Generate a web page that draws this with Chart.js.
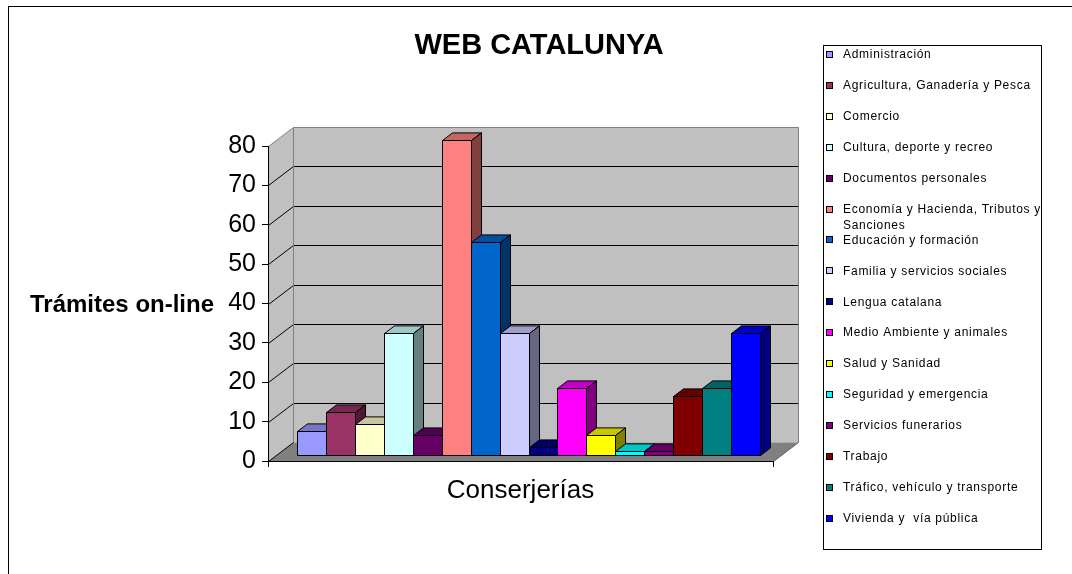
<!DOCTYPE html>
<html>
<head>
<meta charset="utf-8">
<script src="https://cdn.jsdelivr.net/npm/chart.js@4.4.0/dist/chart.umd.min.js"></script>
<style>
  html, body { margin: 0; padding: 0; background: #fff; }
  #wrap { width: 1072px; height: 574px; }
</style>
</head>
<body>
<div id="wrap"><canvas id="chart" width="1072" height="574"></canvas></div>
<script>
const categories = ['Conserjerías'];
const seriesNames = [
  'Administración',
  'Agricultura, Ganadería y Pesca',
  'Comercio',
  'Cultura, deporte y recreo',
  'Documentos personales',
  ['Economía y Hacienda, Tributos y', 'Sanciones'],
  'Educación y formación',
  'Familia y servicios sociales',
  'Lengua catalana',
  'Medio Ambiente y animales',
  'Salud y Sanidad',
  'Seguridad y emergencia',
  'Servicios funerarios',
  'Trabajo',
  'Tráfico, vehículo y transporte',
  'Vivienda y  vía pública'
];
const seriesValues = [6, 11, 8, 31, 5, 80, 54, 31, 2, 17, 5, 1, 1, 15, 17, 31];
const seriesColors = [
  '#9999FF', '#993366', '#FFFFCC', '#CCFFFF', '#660066', '#FF8080', '#0066CC', '#CCCCFF',
  '#000080', '#FF00FF', '#FFFF00', '#00FFFF', '#800080', '#800000', '#008080', '#0000FF'
];
const yTicks = [0, 10, 20, 30, 40, 50, 60, 70, 80];
const chartTitle = 'WEB CATALUNYA';
const yTitle = 'Trámites on-line';

const FONT = "'Liberation Sans', Arial, sans-serif";
// 3D projection: back wall offset from the front plane
const WALL = { dx: 25, dy: -19 };
// bars sit part way into the depth
const BAR_SHIFT = { dx: 8, dy: -6 };
const BAR_DEPTH = { dx: 10, dy: -7.6 };

function shade(hex, k) {
  const n = parseInt(hex.slice(1), 16);
  const r = Math.round(((n >> 16) & 255) * k);
  const g = Math.round(((n >> 8) & 255) * k);
  const b = Math.round((n & 255) * k);
  return `rgb(${r},${g},${b})`;
}

function poly(ctx, pts, fill, stroke) {
  ctx.beginPath();
  ctx.moveTo(pts[0][0], pts[0][1]);
  for (let i = 1; i < pts.length; i++) ctx.lineTo(pts[i][0], pts[i][1]);
  ctx.closePath();
  if (fill) { ctx.fillStyle = fill; ctx.fill(); }
  if (stroke) { ctx.strokeStyle = stroke; ctx.lineWidth = 1; ctx.stroke(); }
}

function line(ctx, x1, y1, x2, y2, color) {
  ctx.beginPath();
  ctx.moveTo(x1, y1);
  ctx.lineTo(x2, y2);
  ctx.strokeStyle = color;
  ctx.lineWidth = 1;
  ctx.stroke();
}

const snap = (v) => Math.round(v) + 0.5;

const excel3d = {
  id: 'excel3d',
  beforeDraw(chart) {
    const ctx = chart.ctx;
    const area = chart.chartArea;
    const ys = chart.scales.y;
    const L = snap(area.left), R = snap(area.right);
    const y0 = snap(ys.getPixelForValue(0));
    const yMax = snap(ys.getPixelForValue(yTicks[yTicks.length - 1]));
    const dx = WALL.dx, dy = WALL.dy;
    ctx.save();
    // outer frame
    ctx.strokeStyle = '#000';
    ctx.lineWidth = 1;
    ctx.strokeRect(8.5, 6.5, 1200, 800);
    // walls and floor
    poly(ctx, [[L + dx, yMax + dy], [R + dx, yMax + dy], [R + dx, y0 + dy], [L + dx, y0 + dy]], '#c0c0c0');
    poly(ctx, [[L, yMax], [L + dx, yMax + dy], [L + dx, y0 + dy], [L, y0]], '#c0c0c0');
    poly(ctx, [[L, y0], [L + dx, y0 + dy], [R + dx, y0 + dy], [R, y0]], '#808080');
    // gridlines
    yTicks.forEach((v) => {
      if (v === yTicks[0] || v === yTicks[yTicks.length - 1]) return;
      const p = snap(ys.getPixelForValue(v));
      line(ctx, L, p, L + dx, p + dy, '#000');
      line(ctx, L + dx, p + dy, R + dx, p + dy, '#000');
    });
    // wall edges
    line(ctx, L, yMax, L + dx, yMax + dy, '#808080');
    line(ctx, L + dx, yMax + dy, R + dx, yMax + dy, '#808080');
    line(ctx, L + dx, yMax + dy, L + dx, y0 + dy, '#808080');
    line(ctx, R + dx, yMax + dy, R + dx, y0 + dy, '#808080');
    line(ctx, R, y0, R + dx, y0 + dy, '#606060');
    line(ctx, L, y0, L + dx, y0 + dy, '#000');
    ctx.restore();
  },
  beforeDatasetsDraw(chart) {
    const ctx = chart.ctx;
    ctx.save();
    chart.data.datasets.forEach((ds, i) => {
      const meta = chart.getDatasetMeta(i);
      meta.data.forEach((bar) => {
        const { x, y, base, width } = bar.getProps(['x', 'y', 'base', 'width'], true);
        const l = snap(x - width / 2 + BAR_SHIFT.dx), r = snap(x + width / 2 + BAR_SHIFT.dx);
        const t = snap(y + BAR_SHIFT.dy), b = snap(base + BAR_SHIFT.dy);
        const bx = BAR_DEPTH.dx, by = BAR_DEPTH.dy;
        const col = ds.backgroundColor;
        poly(ctx, [[l, t], [r, t], [r, b], [l, b]], col, '#000');
        poly(ctx, [[l, t], [l + bx, t + by], [r + bx, t + by], [r, t]], shade(col, 0.78), '#000');
        poly(ctx, [[r, t], [r + bx, t + by], [r + bx, b + by], [r, b]], shade(col, 0.5), '#000');
      });
    });
    ctx.restore();
    return false;
  },
  afterDraw(chart) {
    const ctx = chart.ctx;
    ctx.save();
    ctx.fillStyle = '#000';
    // chart title
    ctx.font = `bold 29px ${FONT}`;
    ctx.textAlign = 'center';
    ctx.textBaseline = 'alphabetic';
    ctx.fillText(chartTitle, 539, 54);
    // y axis title (horizontal, left of the axis)
    ctx.font = `bold 24px ${FONT}`;
    ctx.textAlign = 'left';
    ctx.fillText(yTitle, 30, 312);
    // legend box
    ctx.strokeStyle = '#000';
    ctx.lineWidth = 1;
    ctx.strokeRect(823.5, 45.5, 218, 504);
    ctx.font = `12px ${FONT}`;
    ctx.letterSpacing = '0.7px';
    ctx.textBaseline = 'middle';
    chart.data.datasets.forEach((ds, i) => {
      const cy = 55 + i * 30.9;
      const top = Math.round(cy) - 4;
      ctx.fillStyle = ds.backgroundColor;
      ctx.fillRect(826, top, 7, 7);
      ctx.strokeRect(826.5, top + 0.5, 6, 6);
      ctx.fillStyle = '#000';
      const lines = Array.isArray(ds.label) ? ds.label : [ds.label];
      lines.forEach((txt, k) => {
        ctx.fillText(txt, 843, cy + k * 16);
      });
    });
    ctx.restore();
  }
};

new Chart(document.getElementById('chart'), {
  type: 'bar',
  data: {
    labels: categories,
    datasets: seriesNames.map((name, i) => ({
      label: name,
      data: [seriesValues[i]],
      backgroundColor: seriesColors[i]
    }))
  },
  options: {
    responsive: false,
    animation: false,
    categoryPercentage: 0.917,
    barPercentage: 1,
    layout: { padding: { top: 146, right: 299, left: 0, bottom: 0 } },
    plugins: {
      legend: { display: false },
      title: { display: false },
      tooltip: { enabled: false }
    },
    scales: {
      x: {
        afterFit(scale) { scale.height = 113; },
        grid: { drawOnChartArea: false, drawTicks: true, tickLength: 6, color: '#000' },
        border: { display: true, color: '#000', width: 1 },
        ticks: { color: '#000', padding: 8, font: { family: FONT, size: 26 } }
      },
      y: {
        min: yTicks[0],
        max: yTicks[yTicks.length - 1],
        afterFit(scale) { scale.width = 268; },
        afterBuildTicks(scale) { scale.ticks = yTicks.map((v) => ({ value: v })); },
        grid: { drawOnChartArea: false, drawTicks: true, tickLength: 6, color: '#000' },
        border: { display: true, color: '#000', width: 1 },
        ticks: { color: '#000', padding: 6, font: { family: FONT, size: 25 } }
      }
    }
  },
  plugins: [excel3d]
});
</script>
</body>
</html>
